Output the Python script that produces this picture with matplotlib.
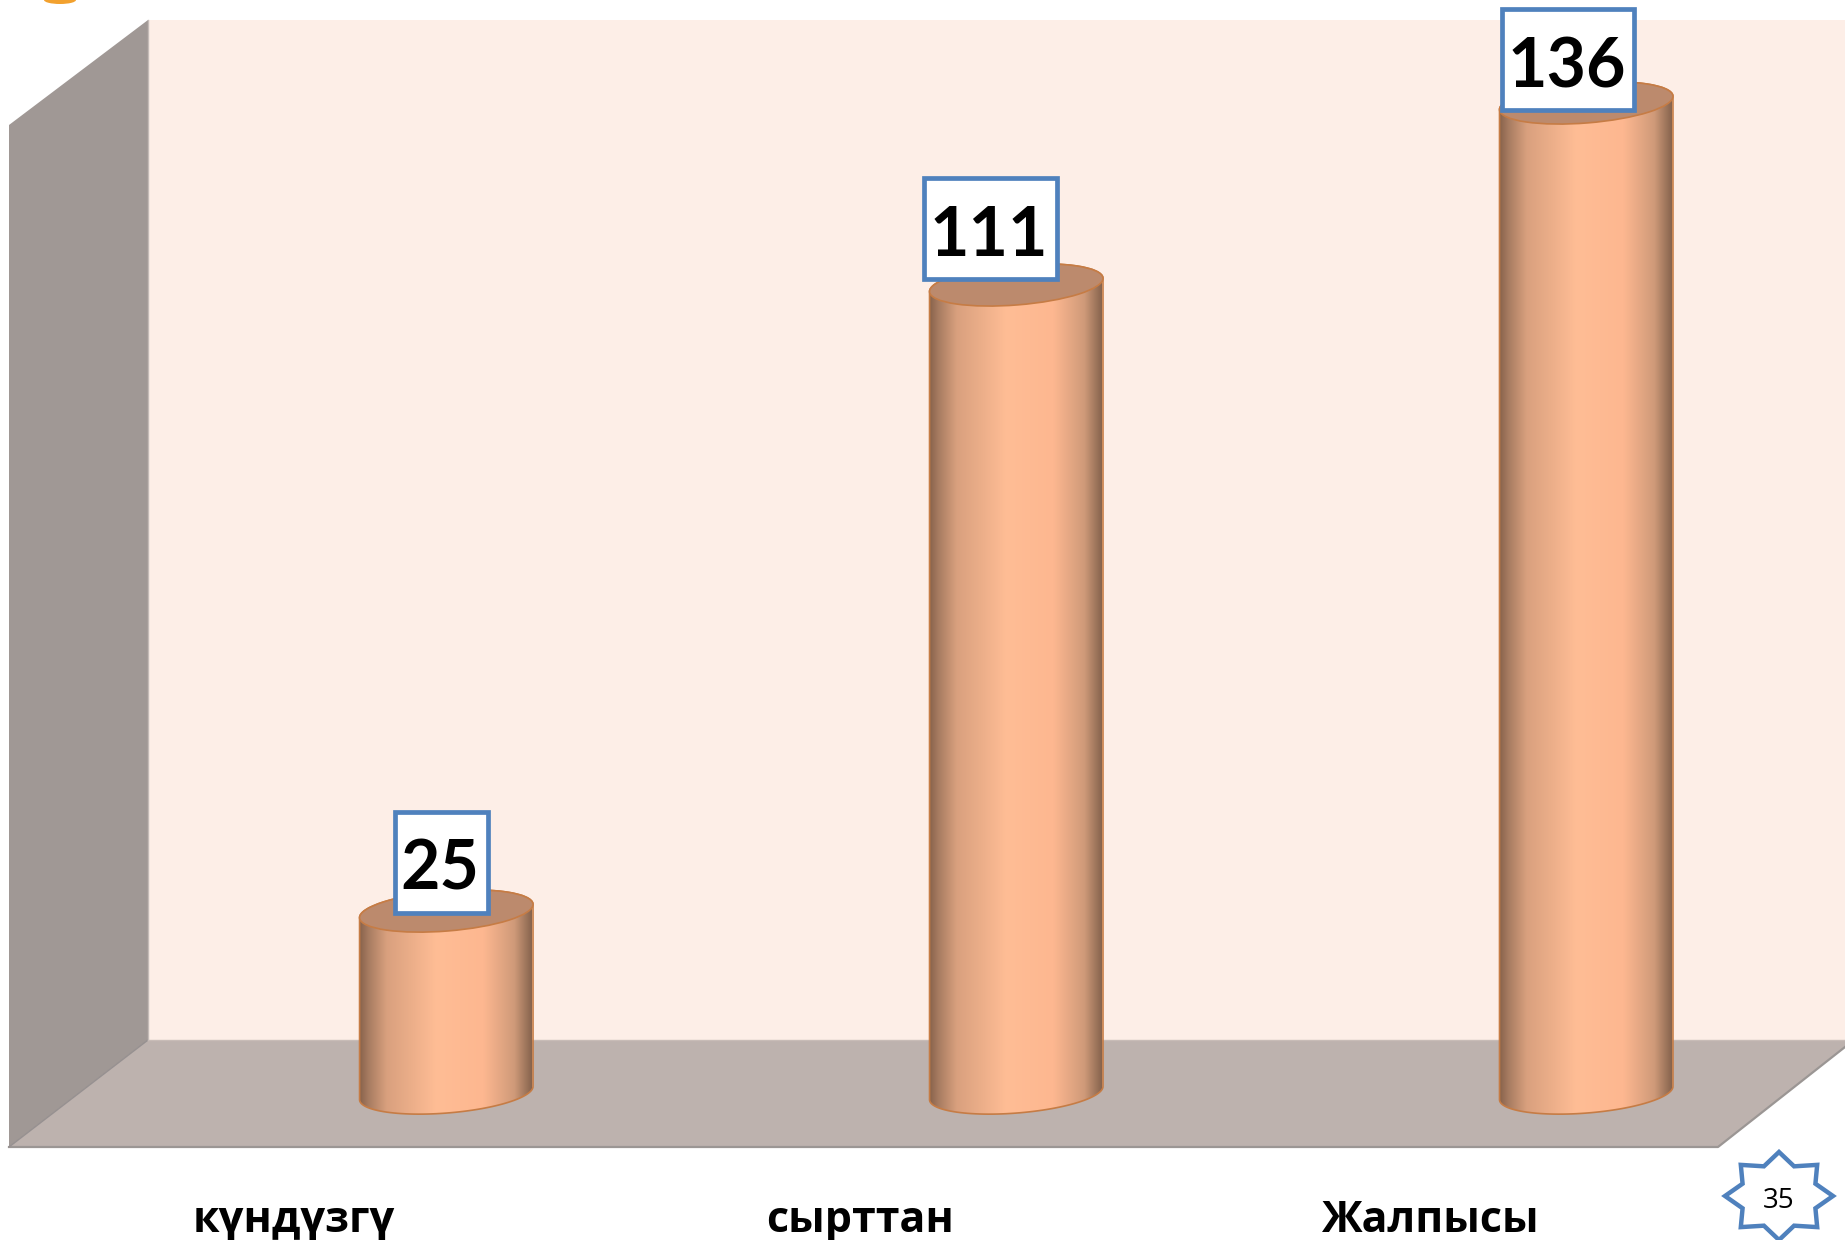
import numpy as np
import matplotlib
matplotlib.use("Agg")
import matplotlib.pyplot as plt
from matplotlib.colors import LinearSegmentedColormap
from matplotlib.patches import Ellipse, PathPatch, Polygon, Rectangle
from matplotlib.path import Path
from matplotlib.transforms import IdentityTransform

categories = ["күндүзгү", "сырттан", "Жалпысы"]
values = [25, 111, 136]
page_number = "35"

BAR_WIDTH = 0.302
RX, RY, TILT = 87, 20, 4.6
BOX_H = 101


def ellipse_points(cx, cy, start, stop):
    # points on the tilted cylinder rim, in display pixels
    t = np.radians(np.linspace(start, stop, 60))
    th = np.radians(TILT)
    x = cx + RX * np.cos(t) * np.cos(th) - RY * np.sin(t) * np.sin(th)
    y = cy + RX * np.cos(t) * np.sin(th) + RY * np.sin(t) * np.cos(th)
    return np.column_stack([x, y])


plt.rcParams['font.family'] = ['Lato', 'Noto Sans', 'DejaVu Sans']

fig = plt.figure(figsize=(18.45, 12.40), dpi=100, facecolor='white')

# Chart frame, drawn in picture pixels
bg = fig.add_axes([0, 0, 1, 1], zorder=0)
bg.set_xlim(0, 1845)
bg.set_ylim(1240, 0)
bg.axis('off')

bg.add_patch(Polygon([(148, 20), (1845, 20), (1845, 1040), (148, 1040)], fc='#fdeee7', ec='none'))
bg.add_patch(Polygon([(9, 125), (148, 20), (148, 1040), (9, 1147)], fc='#a09895', ec='none'))
bg.add_patch(Polygon([(148, 1040), (1845, 1040), (1845, 1047), (1718, 1147), (9, 1147)], fc='#bdb2ae', ec='none'))
bg.plot([9, 1718, 1845], [1147, 1147, 1047], color='#9b9694', lw=1.6)
bg.plot([9, 148], [1147, 1040], color='#969090', lw=1.0)
bg.plot([148, 1845], [1040, 1040], color='#c8bcb7', lw=1.0)
bg.plot([148, 148], [20, 1040], color='#c4bbb7', lw=1.0)
bg.add_patch(Ellipse((60, 0), 32, 8, fc='#f2a12e', ec='none'))

# Page number star
angles = np.radians(np.arange(16) * 22.5)
radius = np.where(np.arange(16) % 2 == 0, 1.0, 0.73)
star = np.column_stack([1779 + 54 * radius * np.cos(angles), 1196 + 44 * radius * np.sin(angles)])
bg.add_patch(Polygon(star, fc='white', ec='#4f81bd', lw=3.2, joinstyle='miter'))
bg.text(1779, 1201, page_number, ha='center', va='center', fontsize=20, color='black', family=['Open Sans'])

# Value axes on top
ax = fig.add_axes([0, 0, 1, 1], zorder=1)
ax.patch.set_alpha(0)
ax.set_xlim(-0.781, 2.456)
ax.set_ylim(-20.19, 150.14)
ax.axis('off')

shade = LinearSegmentedColormap.from_list('cyl', [
    (0.00, '#86614a'), (0.05, '#a57a60'), (0.16, '#d9a07e'), (0.45, '#ffbd95'),
    (0.72, '#fdb790'), (0.90, '#cf9a79'), (1.00, '#87644e')])
gradient = np.linspace(0, 1, 256).reshape(1, -1)

x = np.arange(len(values))
bars = ax.bar(x, values, width=BAR_WIDTH, color='#ffbd95', zorder=2)
box_offsets = [(-5, 49), (-26, 56), (-18, 43)]
name_shift = [-151, -155, -154]
renderer = fig.canvas.get_renderer()

for i, (bar, v) in enumerate(zip(bars, values)):
    bx, tx = ax.transData.transform([(i + 0.002, 0), (i + 0.002, v)])
    rim = np.vstack([ellipse_points(bx[0], bx[1], 180, 360),
                     ellipse_points(tx[0], tx[1], 0, 180)])
    outline = Path(np.vstack([rim, rim[:1]]), closed=True)
    edge = PathPatch(outline, fc='none', ec='#c67c45', lw=1.2, transform=IdentityTransform(), zorder=3)
    ax.add_patch(edge)
    bar.set_clip_path(edge)
    img = ax.imshow(gradient, cmap=shade, aspect='auto', zorder=2.5,
                    extent=(i - BAR_WIDTH / 2, i + BAR_WIDTH / 2, -5, v + 5))
    img.set_clip_path(edge)
    ax.add_patch(Ellipse(tx, 2 * RX, 2 * RY, angle=TILT, fc='#bc8a6d', ec='#c67c45', lw=1.2,
                         transform=IdentityTransform(), zorder=4))

    # value label in a box
    dx, dy = box_offsets[i]
    label = ax.annotate(str(v), (i, v), xytext=(dx, dy - 8), textcoords='offset pixels',
                        ha='center', va='center', fontsize=49, fontweight='bold', color='black', zorder=6)
    box_w = label.get_window_extent(renderer).width + 14
    ax.add_patch(Rectangle((tx[0] + dx - box_w / 2, tx[1] + dy - BOX_H / 2), box_w, BOX_H,
                           fc='white', ec='#4f81bd', lw=3.4, transform=IdentityTransform(), zorder=5))

    ax.annotate(categories[i], (i, 0), xytext=(name_shift[i], -127), textcoords='offset pixels',
                ha='center', va='center', fontsize=31, fontweight='bold', color='black', zorder=5,
                family=['Open Sans'])

ax.set_xlim(-0.781, 2.456)
ax.set_ylim(-20.19, 150.14)

fig.savefig('out.png', dpi=100)
